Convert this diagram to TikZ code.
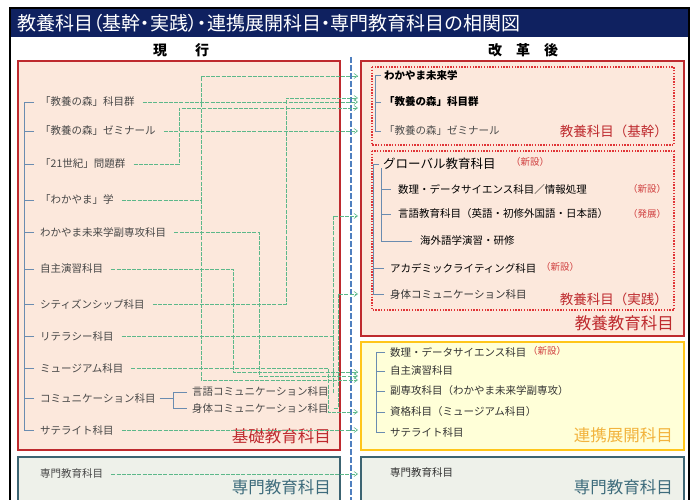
\documentclass[tikz,border=0pt]{standalone}
\usepackage{fontspec}
\setmainfont{Noto Sans CJK JP}
\newfontfamily\titlefont[RawFeature=+palt]{Noto Sans CJK JP}
\usetikzlibrary{arrows.meta}
\definecolor{navy}{HTML}{0F2160}
\definecolor{boxred}{HTML}{BE2A2E}
\definecolor{dotred}{HTML}{E03436}
\definecolor{pinkfill}{HTML}{FCE8DC}
\definecolor{conng}{HTML}{5CB88A}
\definecolor{bluedash}{HTML}{4F7FBF}
\definecolor{treec}{HTML}{6A8CB0}
\definecolor{ybord}{HTML}{FFC61A}
\definecolor{yfill}{HTML}{FFFFD8}
\definecolor{tealb}{HTML}{3C6472}
\definecolor{tealfill}{HTML}{EEF1EA}
\definecolor{tealtext}{HTML}{3E6C7C}
\definecolor{orangetext}{HTML}{F2B33D}
\definecolor{newred}{HTML}{D04040}
\tikzset{
  lt/.style={anchor=west,inner sep=0pt,font=\fontsize{10.5}{12}\selectfont,text=black!72},
  rt/.style={anchor=west,inner sep=0pt,font=\fontsize{10.5}{12}\selectfont,text=black},
  newtag/.style={anchor=west,inner sep=0pt,font=\fontsize{9.5}{11}\selectfont,text=newred},
  conn/.style={draw=conng,line width=0.6pt,dash pattern=on 4pt off 1.2pt},
  arr/.style={conn,-{Straight Barb[length=3.5pt,width=5pt]}},
  tree/.style={draw=treec,line width=0.7pt},
  reddot/.style={draw=dotred,line width=1.6pt,dash pattern=on 1.4pt off 1.4pt},
  bigred/.style={anchor=east,inner sep=0pt,font=\fontsize{16.5}{18}\selectfont,text=boxred},
  midred/.style={anchor=east,inner sep=0pt,font=\fontsize{13.5}{15}\selectfont,text=boxred},
}
\begin{document}
\begin{tikzpicture}[x=1pt,y=-1pt]
\useasboundingbox (0,0) rectangle (696,500);
\fill[white] (0,0) rectangle (696,500);
% frame and title
\draw[black,line width=1.6pt] (10,8) rectangle (689,510);
\fill[navy] (11,9) rectangle (688,37);
\node[anchor=west,inner sep=0pt,text=white,font=\titlefont\fontsize{19}{21}\selectfont] (title) at (17,23)
  {教養科目（基幹・実践）・連携展開科目・専門教育科目の相関図};
\node[inner sep=0pt,font=\fontsize{14}{16}\selectfont\bfseries] (hdrL) at (181,50) {現　　行};
\node[inner sep=0pt,font=\fontsize{14}{16}\selectfont\bfseries] (hdrR) at (523,50) {改　革　後};
% boxes
\draw[boxred,fill=pinkfill,line width=2pt] (18,61) rectangle (340,450);
\draw[tealb,fill=tealfill,line width=1.8pt] (18,457) rectangle (340,510);
\draw[boxred,fill=pinkfill,line width=2pt] (361,61) rectangle (684,336);
\draw[ybord,fill=yfill,line width=1.8pt] (361,342) rectangle (684,450);
\draw[tealb,fill=tealfill,line width=1.8pt] (361,457) rectangle (684,510);
\draw[reddot] (372,67) rectangle (674,145);
\draw[reddot] (372,151) rectangle (674,310);
% blue dashed divider
\draw[bluedash,line width=2.6pt,dash pattern=on 6pt off 2pt] (351,57) -- (351,500);
% left items
\node[lt] (L1) at (40,102) {「教養の森」科目群};
\node[lt] (L2) at (40,131) {「教養の森」ゼミナール};
\node[lt] (L3) at (40,164) {「21世紀」問題群};
\node[lt] (L4) at (40,200) {「わかやま」学};
\node[lt] (L5) at (40,232) {わかやま未来学副専攻科目};
\node[lt] (L6) at (40,269) {自主演習科目};
\node[lt] (L7) at (40,304) {シティズンシップ科目};
\node[lt] (L8) at (40,336) {リテラシー科目};
\node[lt] (L9) at (40,368) {ミュージアム科目};
\node[lt] (L10) at (40,398) {コミュニケーション科目};
\node[lt] (L10a) at (192,392) {言語コミュニケーション科目};
\node[lt] (L10b) at (192,408) {身体コミュニケーション科目};
\node[lt] (L11) at (40,430) {サテライト科目};
\node[lt] (L12) at (40,474) {専門教育科目};
\node[bigred] (labKiso) at (331,436) {基礎教育科目};
\node[bigred,text=tealtext] (labSenL) at (331,487) {専門教育科目};
% left tree
\draw[tree] ([xshift=-6pt]L1.west) -- (24,102) -- (24,430) -- ([xshift=-6pt]L11.west);
\foreach \n in {L2,L3,L4,L5,L6,L7,L8,L9,L10}{\draw[tree] ([xshift=-6pt]\n.west) -- ++(-10,0);}
\coordinate (fk) at (173,398);
\draw[tree] ([xshift=4pt]L10.east) -- (fk);
\draw[tree] ([xshift=-5pt]L10a.west) -- (173,392) -- (173,408) -- ([xshift=-5pt]L10b.west);
% right items: kikan
\node[rt,font=\fontsize{10.5}{12}\selectfont\bfseries] (R1) at (384,75) {わかやま未来学};
\node[rt,font=\fontsize{10.5}{12}\selectfont\bfseries] (R2) at (384,102) {「教養の森」科目群};
\node[rt,text=black!70] (R3) at (384,131) {「教養の森」ゼミナール};
\node[midred] (labKikan) at (668,131) {教養科目（基幹）};
\draw[tree] ([xshift=-3pt]R1.west) -- (375,75) -- (375,131) -- ([xshift=-3pt]R3.west);
\draw[tree] ([xshift=-3pt]R2.west) -- (375,102);
% jissen
\node[rt,font=\fontsize{12.5}{14}\selectfont] (R4) at (383,164) {グローバル教育科目};
\node[newtag] (n4) at (511,162) {（新設）};
\node[rt] (R5) at (398,189) {数理・データサイエンス科目／情報処理};
\node[newtag] (n5) at (628,189) {（新設）};
\node[rt] (R6) at (398,214) {言語教育科目（英語・初修外国語・日本語）};
\node[newtag] (n6) at (628,214) {（発展）};
\node[rt] (R7) at (420,241) {海外語学演習・研修};
\node[rt] (R8) at (390,268) {アカデミックライティング科目};
\node[newtag] (n8) at (541,267) {（新設）};
\node[rt,text=black!80] (R9) at (390,294) {身体コミュニケーション科目};
\node[midred] (labJissen) at (668,299) {教養科目（実践）};
\node[bigred] (labKyoyo) at (674,323) {教養教育科目};
\draw[tree] ([xshift=-4pt]R4.west) -- (373,164) -- (373,294) -- ([xshift=-6pt]R9.west);
\draw[tree] (373,268) -- ([xshift=-6pt]R8.west);
\draw[tree] (381,168) -- (381,241) -- ([xshift=-8pt]R7.west);
\draw[tree] (381,189) -- ([xshift=-7pt]R5.west);
\draw[tree] (381,214) -- ([xshift=-7pt]R6.west);
% renkei
\node[rt,text=black!80] (Y1) at (390,352) {数理・データサイエンス科目};
\node[newtag] (ny1) at (528,351) {（新設）};
\node[rt,text=black!80] (Y2) at (390,371) {自主演習科目};
\node[rt,text=black!80] (Y3) at (390,391) {副専攻科目（わかやま未来学副専攻）};
\node[rt,text=black!80] (Y4) at (390,412) {資格科目（ミュージアム科目）};
\node[rt,text=black!80] (Y5) at (390,432) {サテライト科目};
\node[bigred,text=orangetext] (labRenkei) at (673,435) {連携展開科目};
\draw[tree] ([xshift=-5pt]Y1.west) -- (376,352) -- (376,432) -- ([xshift=-5pt]Y5.west);
\foreach \n in {Y2,Y3,Y4}{\draw[tree] ([xshift=-5pt]\n.west) -- (376,0 |- \n.west);}
% senmon right
\node[rt,text=black!80] (S2) at (390,473) {専門教育科目};
\node[bigred,text=tealtext] (labSenR) at (673,487) {専門教育科目};
% arrow tips
\coordinate (t1) at (358,76);
\coordinate (t2a) at (358,98);
\coordinate (t2b) at (358,102);
\coordinate (t2c) at (358,108);
\coordinate (t3) at (358,131);
\coordinate (t6) at (358,216);
\coordinate (t9) at (358,294);
\coordinate (ty1) at (358,372);
\coordinate (ty2) at (358,376);
\coordinate (ty3) at (358,380);
\coordinate (ty4) at (358,412);
\coordinate (ty5) at (358,430);
\coordinate (ts) at (358,474);
% connectors
\draw[arr] ([xshift=8pt]L1.east) -- (t2b);
\draw[arr] ([xshift=8pt]L2.east) -- (t3);
\draw[arr] ([xshift=8pt]L3.east) -| (179,108) -- (t2c);
\draw[arr] ([xshift=8pt]L4.east) -| (201,76) -- (t1);
\draw[arr] (201,200) -- (201,380) -- (ty3);
\draw[arr] ([xshift=8pt]L5.east) -| (259,376) -- (ty2);
\draw[arr] ([xshift=8pt]L6.east) -| (233,372) -- (ty1);
\draw[arr] ([xshift=8pt]L7.east) -| (286,98) -- (t2a);
\draw[arr] ([xshift=8pt]L8.east) -| (333,216) -- (t6);
\draw[arr] ([xshift=8pt]L9.east) -| (328,412) -- (ty4);
\draw[conn] ([xshift=5pt]L10a.east) -| (333,336);
\draw[arr] ([xshift=5pt]L10b.east) -| (338,294) -- (t9);
\draw[arr] ([xshift=8pt]L11.east) -- (ty5);
\draw[arr] ([xshift=8pt]L12.east) -- (ts);
\end{tikzpicture}
\end{document}
